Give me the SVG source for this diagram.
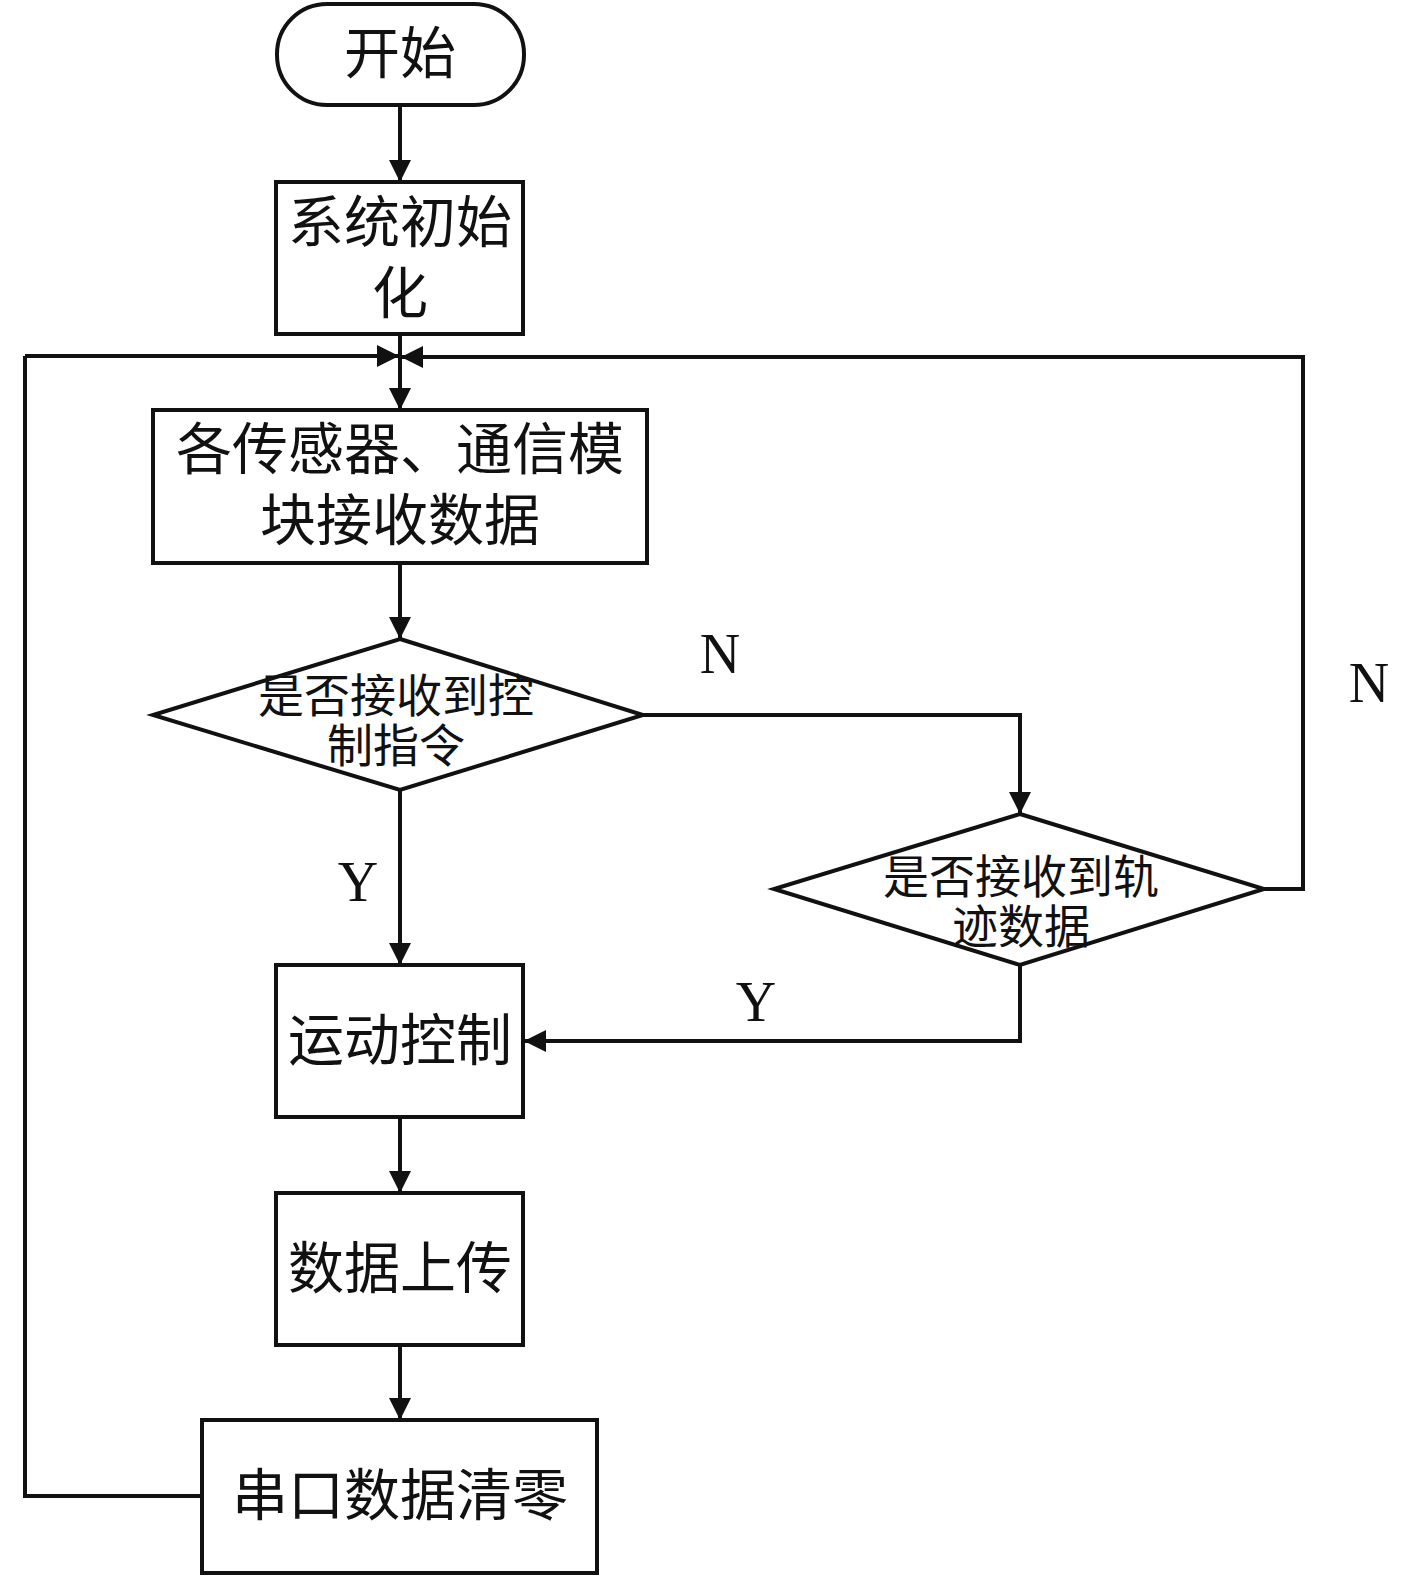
<svg xmlns="http://www.w3.org/2000/svg" width="1417" height="1576" viewBox="0 0 1417 1576">
<defs>
<marker id="ah" viewBox="0 0 10 10" refX="10" refY="5" markerWidth="22" markerHeight="22" markerUnits="userSpaceOnUse" orient="auto">
<path d="M0,0 L10,5 L0,10 Z" fill="#111"/>
</marker>
<style>
.shape{fill:#fff;stroke:#111;stroke-width:4}
.line{fill:none;stroke:#111;stroke-width:4;marker-end:url(#ah)}
.plain{fill:none;stroke:#111;stroke-width:4}
.t{font-family:"Liberation Serif","Noto Sans CJK SC",serif;fill:#111;text-anchor:middle;dominant-baseline:central}
.big{font-size:56px}
.mid{font-size:46px}
.lbl{font-family:"Liberation Serif",serif;font-size:56px;fill:#111;text-anchor:middle;dominant-baseline:central}
</style>
</defs>
<rect width="1417" height="1576" fill="#fff"/>
<g id="connectors">
<path class="line" d="M400,105 V182"/>
<path class="line" d="M400,334 V410"/>
<path class="line" d="M25,356 H399"/>
<path class="line" d="M1264,889 H1303 V357 H401"/>
<path class="line" d="M400,563 V639"/>
<path class="line" d="M643,715 H1020 V814"/>
<path class="line" d="M400,790 V965"/>
<path class="line" d="M1020,965 V1041 H524"/>
<path class="line" d="M400,1117 V1193"/>
<path class="line" d="M400,1345 V1420"/>
<path class="plain" d="M202,1496 H25 V356"/>
<text class="lbl" x="720" y="654">N</text>
<text class="lbl" x="1369" y="683">N</text>
<text class="lbl" x="358" y="882">Y</text>
<text class="lbl" x="756" y="1002">Y</text>
</g>
<g id="start">
<rect class="shape" x="277" y="4" width="247" height="101" rx="50" ry="50"/>
<text class="t big" x="400" y="54">开始</text>
</g>
<g id="init">
<rect class="shape" x="276" y="182" width="247" height="152"/>
<text class="t big" x="400" y="223">系统初始</text>
<text class="t big" x="400" y="294">化</text>
</g>
<g id="receive">
<rect class="shape" x="153" y="410" width="494" height="153"/>
<text class="t big" x="400" y="450">各传感器、通信模</text>
<text class="t big" x="400" y="521">块接收数据</text>
</g>
<g id="decision1">
<polygon class="shape" points="400,639 643,715 400,790 153,715"/>
<text class="t mid" x="396" y="696">是否接收到控</text>
<text class="t mid" x="396" y="746">制指令</text>
</g>
<g id="decision2">
<polygon class="shape" points="1020,814 1264,889 1020,965 774,889"/>
<text class="t mid" x="1021" y="877">是否接收到轨</text>
<text class="t mid" x="1021" y="927">迹数据</text>
</g>
<g id="motion">
<rect class="shape" x="276" y="965" width="247" height="152"/>
<text class="t big" x="400" y="1041">运动控制</text>
</g>
<g id="upload">
<rect class="shape" x="276" y="1193" width="247" height="152"/>
<text class="t big" x="400" y="1269">数据上传</text>
</g>
<g id="clear">
<rect class="shape" x="202" y="1420" width="395" height="153"/>
<text class="t big" x="400" y="1496">串口数据清零</text>
</g>
</svg>
